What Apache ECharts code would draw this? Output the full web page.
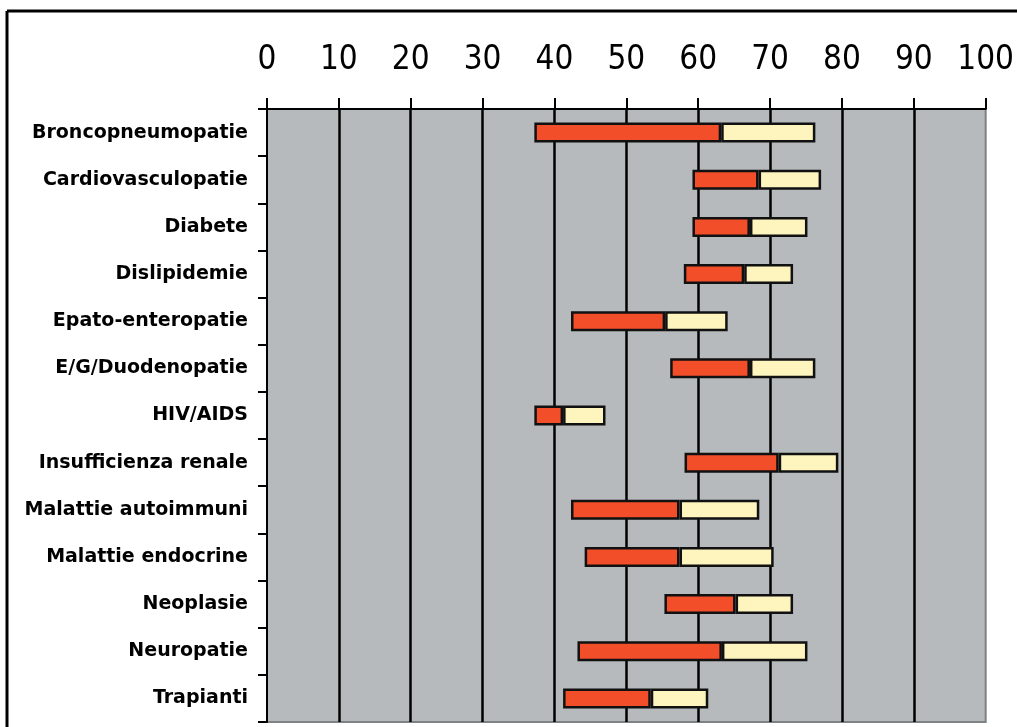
<!DOCTYPE html>
<html>
<head>
<meta charset="utf-8">
<script src="https://cdn.jsdelivr.net/npm/echarts@6/dist/echarts.min.js"></script>
<style>
  html, body { margin: 0; padding: 0; background: #fff; }
  #chart { width: 1017px; height: 727px; }
</style>
</head>
<body>
<div id="chart"></div>
<script>
// categories top to bottom
var categories = [
  'Broncopneumopatie', 'Cardiovasculopatie', 'Diabete', 'Dislipidemie',
  'Epato-enteropatie', 'E/G/Duodenopatie', 'HIV/AIDS', 'Insufficienza renale',
  'Malattie autoimmuni', 'Malattie endocrine', 'Neoplasie', 'Neuropatie', 'Trapianti'
];
// where each bar starts, where red ends, where yellow ends
var rangeStart = [37.2, 59.2, 59.2, 58.0, 42.3, 56.1, 37.2, 58.1, 42.3, 44.2, 55.3, 43.2, 41.2];
var rangeMid   = [63.2, 68.4, 67.2, 66.4, 55.4, 67.2, 41.2, 71.2, 57.4, 57.4, 65.2, 63.3, 53.4];
var rangeEnd   = [76.3, 77.1, 75.2, 73.2, 64.1, 76.3, 47.1, 79.5, 68.5, 70.5, 73.2, 75.2, 61.4];
var xTicks = [0, 10, 20, 30, 40, 50, 60, 70, 80, 90, 100];

var redPart = rangeMid.map(function(v, i){ return +(v - rangeStart[i]).toFixed(1); });
var yellowPart = rangeEnd.map(function(v, i){ return +(v - rangeMid[i]).toFixed(1); });

var chart = echarts.init(document.getElementById('chart'));
var barStyle = { borderColor: '#111', borderWidth: 2.5 };

chart.setOption({
  animation: false,
  graphic: [
    { type: 'line', shape: { x1: 7, y1: 11, x2: 1017, y2: 11 }, style: { stroke: '#000', lineWidth: 3 } },
    { type: 'line', shape: { x1: 7, y1: 11, x2: 7, y2: 727 }, style: { stroke: '#000', lineWidth: 3 } }
  ],
  grid: {
    left: 267, top: 109, right: 30, bottom: 5,
    show: true, backgroundColor: '#b6babc', borderColor: '#7f8283', borderWidth: 2
  },
  xAxis: {
    type: 'value', position: 'top', min: 0, max: 100, interval: 10,
    axisLine: { show: true, lineStyle: { color: '#000', width: 2 } },
    axisTick: { show: true, length: 11, lineStyle: { color: '#000', width: 2 } },
    axisLabel: {
      color: '#000', fontFamily: '"DejaVu Sans Condensed", "Liberation Sans"', fontSize: 33, margin: 32,
      customValues: xTicks
    },
    splitLine: { show: true, showMinLine: false, showMaxLine: false, lineStyle: { color: '#000', width: 2.5 } }
  },
  yAxis: {
    type: 'category', data: categories, inverse: true,
    axisLine: { show: true, lineStyle: { color: '#000', width: 2 } },
    axisTick: { show: true, length: 9, lineStyle: { color: '#000', width: 2 } },
    axisLabel: {
      color: '#000', fontFamily: '"DejaVu Sans"', fontWeight: 'bold', fontSize: 19, margin: 19
    }
  },
  series: [
    { type: 'bar', stack: 'r', data: rangeStart, barWidth: 20,
      itemStyle: { color: 'transparent' }, silent: true },
    { type: 'bar', stack: 'r', data: redPart, barWidth: 20,
      itemStyle: Object.assign({ color: '#f24e29' }, barStyle) },
    { type: 'bar', stack: 'r', data: yellowPart, barWidth: 20,
      itemStyle: Object.assign({ color: '#fdf5bd' }, barStyle) }
  ]
});
</script>
</body>
</html>
